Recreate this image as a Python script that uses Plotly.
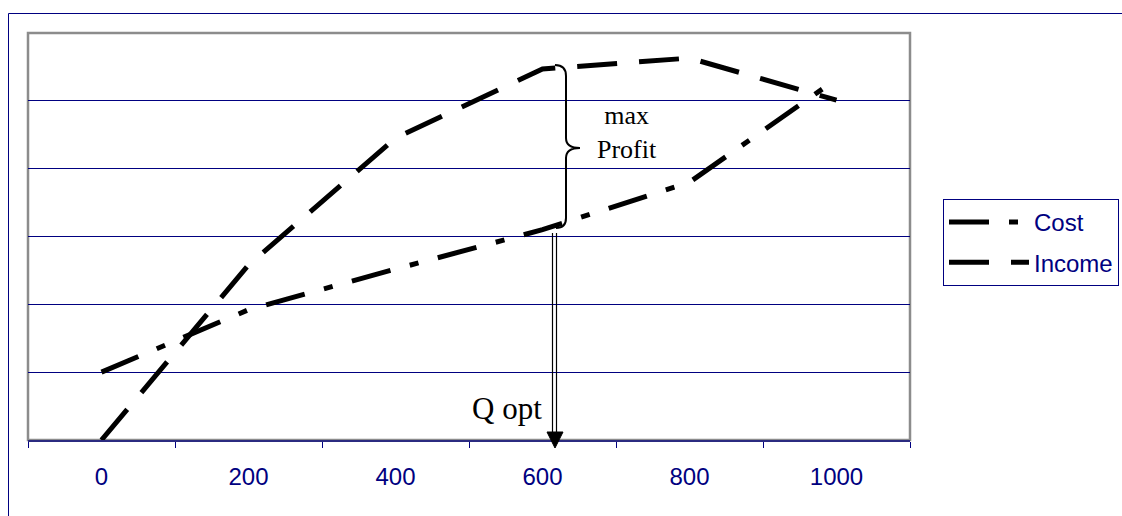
import plotly.graph_objects as go

# ---- data ----
quantity = [0, 200, 400, 600, 800, 1000]
tick_labels = ["0", "200", "400", "600", "800", "1000"]
cost = [1.00, 1.92, 2.52, 3.10, 3.80, 5.32]
income = [0.00, 2.58, 4.45, 5.47, 5.63, 5.01]

NAVY = "#000080"

# geometry in screen pixels (page body margin removed below)
W, H = 1122, 516
L, R, T, B = 28, 910, 33, 440


def xp(p):  # pixel x -> paper x
    return (p - L) / (R - L)


def yp(p):  # pixel y -> paper y
    return (B - p) / (B - T)


fig = go.Figure()
fig.add_trace(go.Scatter(
    x=quantity, y=cost, name="Cost", mode="lines", legendgroup="c",
    line=dict(color="black", width=5, dash="40px,20px,9px,20px"),
))
fig.add_trace(go.Scatter(
    x=quantity, y=income, name="Income", mode="lines", legendgroup="i",
    line=dict(color="black", width=5, dash="40px,22px"),
))

shapes = []
# outer chart border
shapes.append(dict(type="rect", xref="paper", yref="paper",
                   x0=xp(8.5), x1=xp(1135), y0=yp(13.5), y1=yp(540),
                   line=dict(color=NAVY, width=1), layer="below"))
# plot area border (grey)
shapes.append(dict(type="rect", xref="paper", yref="paper",
                   x0=0, x1=1, y0=0, y1=1,
                   line=dict(color="#8c8c8c", width=2.5), layer="below"))
# brace
bx = 566
brace = (f"M {xp(555)},{yp(65)} Q {xp(bx)},{yp(65)} {xp(bx)},{yp(76)} "
         f"L {xp(bx)},{yp(138)} Q {xp(bx)},{yp(148)} {xp(580)},{yp(148)} "
         f"Q {xp(bx)},{yp(148)} {xp(bx)},{yp(158)} "
         f"L {xp(bx)},{yp(218)} Q {xp(bx)},{yp(228)} {xp(556)},{yp(228)}")
shapes.append(dict(type="path", xref="paper", yref="paper", path=brace,
                   line=dict(color="black", width=2)))
# hollow arrow shaft
for sx in (552.5, 556.5):
    shapes.append(dict(type="line", xref="paper", yref="paper",
                       x0=xp(sx), x1=xp(sx), y0=yp(233), y1=yp(433),
                       line=dict(color="black", width=1.2)))
# arrow head
head = f"M {xp(547)},{yp(432)} L {xp(563)},{yp(432)} L {xp(555)},{yp(448)} Z"
shapes.append(dict(type="path", xref="paper", yref="paper", path=head,
                   fillcolor="black", line=dict(color="black", width=1)))

annotations = [
    dict(xref="paper", yref="paper", x=xp(627), y=yp(132), text="max<br>Profit",
         showarrow=False, font=dict(family="Liberation Serif", size=26, color="black"),
         xanchor="center", yanchor="middle"),
    dict(xref="paper", yref="paper", x=xp(507), y=yp(408), text="Q opt",
         showarrow=False, font=dict(family="Liberation Serif", size=31, color="black"),
         xanchor="center", yanchor="middle"),
]

fig.update_layout(
    width=W, height=H,
    margin=dict(l=L, r=W - R, t=T, b=H - B, pad=0, autoexpand=False),
    paper_bgcolor="white", plot_bgcolor="white",
    font=dict(family="Liberation Sans", size=24, color=NAVY),
    showlegend=True,
    legend=dict(x=xp(943), y=yp(199), xanchor="left", yanchor="top",
                bordercolor=NAVY, borderwidth=1, bgcolor="white",
                font=dict(family="Liberation Sans", size=24, color=NAVY),
                itemwidth=80, tracegroupgap=6, traceorder="grouped"),
    shapes=shapes,
    annotations=annotations,
    xaxis=dict(range=[-100, 1100], tickmode="array", tickvals=quantity,
               ticktext=tick_labels, ticks="", showgrid=False, zeroline=False,
               showline=True, linecolor="#2b2b80", linewidth=2,
               ticklabelstandoff=14,
               tickfont=dict(family="Liberation Sans", size=24, color=NAVY),
               minor=dict(tickmode="array", tickvals=[-100, 100, 300, 500, 700, 900, 1100],
                          ticks="outside", ticklen=6, tickcolor=NAVY, tickwidth=1,
                          showgrid=False)),
    yaxis=dict(range=[0, 6], tickmode="array", tickvals=[1, 2, 3, 4, 5],
               showticklabels=False, ticks="", showgrid=True, gridcolor=NAVY,
               gridwidth=1, zeroline=False, showline=False),
)

fig.write_html("out.html", config={"displayModeBar": False},
               post_script="document.body.style.margin='0';document.body.style.overflow='hidden';")
